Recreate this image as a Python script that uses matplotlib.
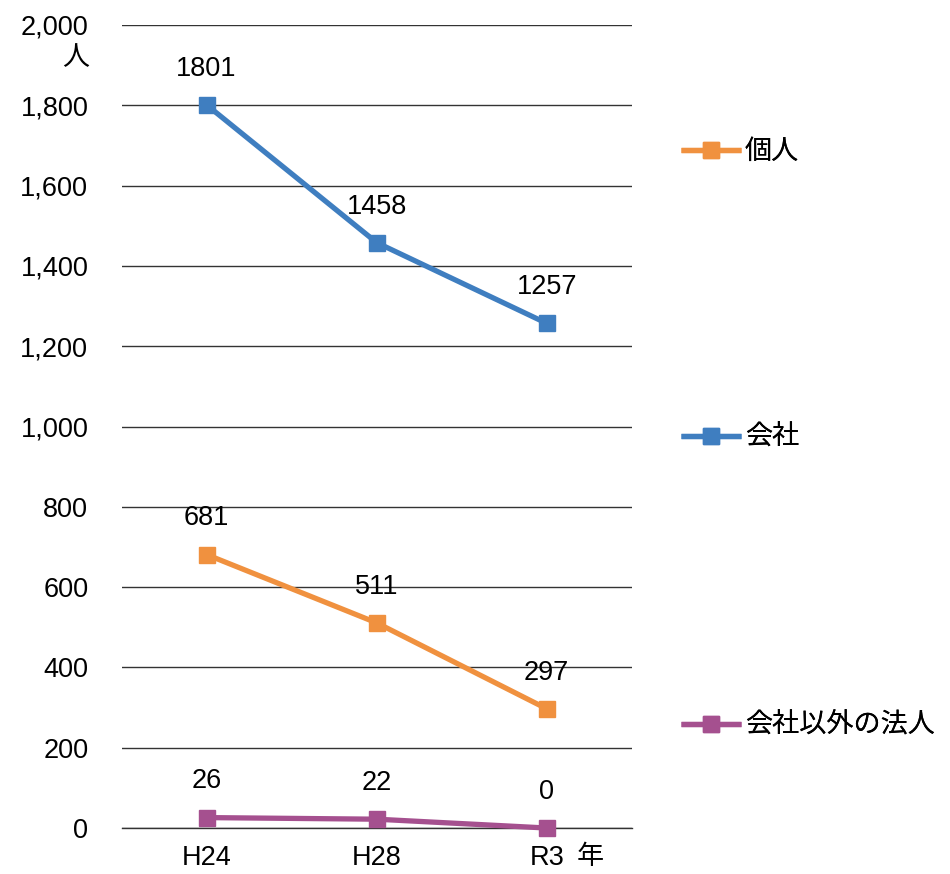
import matplotlib
matplotlib.use("Agg")
import matplotlib.pyplot as plt

plt.rcParams['font.family'] = ['Liberation Sans', 'Noto Sans CJK JP', 'DejaVu Sans']

# data
years = ['H24', 'H28', 'R3']
kojin = [681, 511, 297]
kaisha = [1801, 1458, 1257]
sonota = [26, 22, 0]
series_names = ['個人', '会社', '会社以外の法人']
yticks = [0, 200, 400, 600, 800, 1000, 1200, 1400, 1600, 1800, 2000]

colors = {'個人': '#F0913F', '会社': '#3F7EC0', '会社以外の法人': '#A5508F'}
fs = 19.5

fig = plt.figure(figsize=(9.5, 8.74), dpi=100)
ax = fig.add_axes([0.128, 0.0526, 0.537, 0.9188])

x = list(range(len(years)))
lines = {}
for name, vals in zip(series_names, [kojin, kaisha, sonota]):
    ln, = ax.plot(x, vals, color=colors[name], lw=3.8, marker='s', ms=11,
                  solid_capstyle='butt', zorder=3, clip_on=False)
    lines[name] = ln
    for xi, v in zip(x, vals):
        ax.annotate(str(v), (xi, v), xytext=(0, 26), textcoords='offset points',
                    ha='center', va='center', fontsize=fs)

ax.set_xlim(-0.5, 2.5)
ax.set_ylim(0, 2000)
ax.set_yticks(yticks)
ax.set_yticklabels([f'{t:,}' for t in yticks], fontsize=fs)
ax.set_xticks(x)
ax.set_xticklabels(years, fontsize=fs)
ax.tick_params(length=0)
ax.tick_params(axis='x', pad=12)
ax.tick_params(axis='y', pad=24)
ax.yaxis.grid(True, color='#333333', lw=1)
ax.axhline(0, color='#333333', lw=1, zorder=1, clip_on=False)
ax.set_axisbelow(True)
for s in ax.spines.values():
    s.set_visible(False)

fig.text(76 / 950, 1 - 58 / 874, '人', fontsize=fs, ha='center', va='center')
fig.text(590 / 950, 1 - 857 / 874, '年', fontsize=fs, ha='center', va='center')

legend_y = {'個人': 152, '会社': 438, '会社以外の法人': 726}
for name in series_names:
    lg = fig.legend([lines[name]], [name], loc='center left',
                    bbox_to_anchor=(681 / 950, 1 - legend_y[name] / 874),
                    frameon=False, fontsize=fs, handlelength=2.2,
                    handletextpad=0.15, borderaxespad=0, borderpad=0)
    fig.add_artist(lg)

fig.savefig('out.png', dpi=100)
